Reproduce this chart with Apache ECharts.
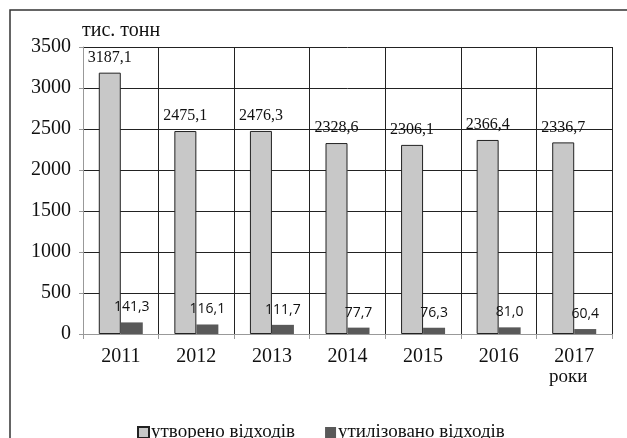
<!DOCTYPE html>
<html>
<head>
<meta charset="utf-8">
<script src="https://cdn.jsdelivr.net/npm/echarts@6/dist/echarts.min.js"></script>
<style>
  html, body { margin: 0; padding: 0; background: #fff; }
  #chart { width: 627px; height: 438px; }
</style>
</head>
<body>
<div id="chart"></div>
<script>
const years = ['2011', '2012', '2013', '2014', '2015', '2016', '2017'];
const created = [3187.1, 2475.1, 2476.3, 2328.6, 2306.1, 2366.4, 2336.7];
const recycled = [141.3, 116.1, 111.7, 77.7, 76.3, 81.0, 60.4];
const yTicks = { min: 0, max: 3500, step: 500 };

const serif = '"Liberation Serif", "DejaVu Serif", serif';
const sans = '"Open Sans", "Noto Sans", sans-serif';

const fmt = (v) => v.toFixed(1).replace('.', ',');

const chart = echarts.init(document.getElementById('chart'));

chart.setOption({
  animation: false,
  backgroundColor: '#fff',
  grid: { left: 83, right: 15, top: 47, bottom: 104 },
  graphic: [
    {
      type: 'rect',
      shape: { x: 10, y: 10, width: 700, height: 600 },
      style: { fill: 'none', stroke: '#333', lineWidth: 1.5 },
      silent: true,
    },
    {
      type: 'text',
      left: 82,
      top: 21,
      style: { text: 'тис. тонн', font: '20px ' + serif, fill: '#111' },
    },
    {
      type: 'text',
      left: 549,
      top: 368,
      style: { text: 'роки', font: '19px ' + serif, fill: '#111' },
    },
  ],
  legend: {
    left: 132,
    top: 418,
    itemWidth: 11,
    itemHeight: 11,
    itemGap: 30,
    icon: 'rect',
    textStyle: { fontFamily: serif, fontSize: 19, color: '#111', padding: [0, 0, 0, -3] },
    data: ['утворено відходів', 'утилізовано відходів'],
  },
  xAxis: {
    type: 'category',
    data: years,
    axisLine: { lineStyle: { color: '#999', width: 1 } },
    axisTick: { show: true, length: 5, lineStyle: { color: '#999' } },
    axisLabel: { fontFamily: serif, fontSize: 20, color: '#111', margin: 13 },
    splitLine: { show: true, lineStyle: { color: '#222', width: 1 } },
  },
  yAxis: {
    type: 'value',
    min: yTicks.min,
    max: yTicks.max,
    interval: yTicks.step,
    axisLine: { show: true, lineStyle: { color: '#999', width: 1 } },
    axisTick: { show: true, length: 4, lineStyle: { color: '#999' } },
    axisLabel: { fontFamily: serif, fontSize: 20, color: '#111', margin: 12, formatter: (v) => String(v) },
    splitLine: { lineStyle: { color: '#222', width: 1 } },
  },
  series: [
    {
      name: 'утворено відходів',
      type: 'bar',
      data: created,
      barWidth: 22,
      barGap: '0%',
      itemStyle: { color: '#c8c8c8', borderColor: '#222', borderWidth: 1 },
      label: {
        show: true,
        position: 'top',
        distance: 7,
        formatter: (p) => fmt(p.value),
        fontFamily: serif,
        fontSize: 16,
        color: '#111',
      },
    },
    {
      name: 'утилізовано відходів',
      type: 'bar',
      data: recycled,
      barWidth: 22,
      itemStyle: { color: '#595959' },
      label: {
        show: true,
        position: 'top',
        distance: 8,
        formatter: (p) => fmt(p.value),
        fontFamily: sans,
        fontSize: 14,
        color: '#111',
      },
    },
  ],
});
</script>
</body>
</html>
